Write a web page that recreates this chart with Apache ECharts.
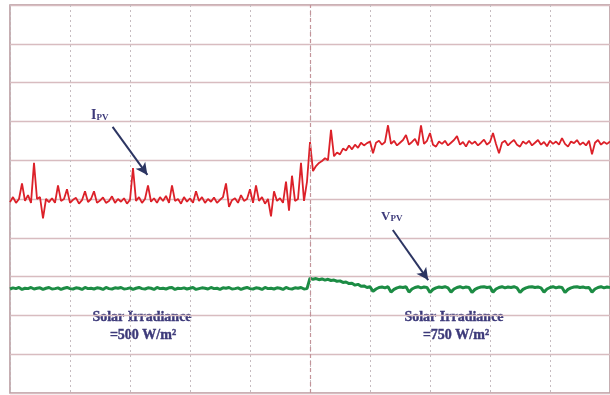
<!DOCTYPE html>
<html>
<head>
<meta charset="utf-8">
<script src="https://cdn.jsdelivr.net/npm/echarts@6/dist/echarts.min.js"></script>
<style>html,body{margin:0;padding:0;background:#fff}#c{width:610px;height:395px}</style>
</head>
<body>
<div id="c"></div>
<script>
// sample spacing in grid divisions (time axis)
const sampleStep = 0.05;
// PV current trace (in screen divisions)
const ipv = [
4.92,5.05,4.9,5.0,5.4,4.95,5.1,4.9,5.93,5.0,
5.05,4.5,5.0,4.92,5.02,4.9,5.35,4.95,5.0,5.25,
4.9,4.98,5.03,4.88,4.97,5.2,4.92,5.0,5.2,4.9,
4.96,5.04,4.9,4.95,5.07,4.9,5.0,4.93,5.02,4.88,
4.98,5.8,4.95,5.05,4.9,5.0,5.35,4.93,5.02,4.9,
5.05,4.95,5.08,4.9,5.35,4.95,5.0,4.88,5.05,4.93,
5.02,4.9,5.2,4.95,5.05,4.9,5.0,4.93,5.04,4.9,
4.98,5.05,5.4,4.8,4.97,5.02,4.9,5.1,4.95,5.0,
5.25,4.9,5.35,4.95,5.05,4.88,5.0,4.55,5.2,4.95,
5.02,4.9,5.45,4.7,5.6,4.95,5.0,5.93,4.95,5.45,
6.47,5.72,5.85,5.93,5.98,6.05,6.0,6.78,6.1,6.2,
6.15,6.3,6.25,6.38,6.28,6.4,6.32,6.45,6.38,6.44,
6.48,6.18,6.45,6.5,6.4,6.47,6.9,6.42,6.5,6.38,
6.45,6.52,6.65,6.4,6.47,6.55,6.38,6.9,6.42,6.5,
6.7,6.4,6.35,6.48,6.42,6.5,6.38,6.45,6.52,6.62,
6.4,6.47,6.35,6.5,6.42,6.48,6.38,6.45,6.53,6.4,
6.47,6.7,6.42,6.18,6.45,6.5,6.38,6.46,6.52,6.4,
6.35,6.48,6.42,6.5,6.38,6.45,6.52,6.4,6.47,6.36,
6.5,6.42,6.48,6.4,6.57,6.42,6.35,6.48,6.44,6.52,
6.4,6.46,6.38,6.5,6.15,6.45,6.52,6.4,6.47,6.42,
6.48
];
// PV voltage trace (in screen divisions)
const vpv = [
2.68,2.71,2.69,2.72,2.67,2.7,2.69,2.72,2.68,2.7,
2.71,2.67,2.7,2.72,2.68,2.69,2.71,2.67,2.7,2.72,
2.69,2.68,2.71,2.7,2.67,2.72,2.69,2.7,2.68,2.71,
2.7,2.67,2.72,2.69,2.68,2.71,2.7,2.72,2.68,2.69,
2.71,2.67,2.7,2.72,2.69,2.68,2.71,2.7,2.67,2.72,
2.69,2.7,2.68,2.71,2.72,2.67,2.7,2.69,2.71,2.68,
2.7,2.72,2.67,2.69,2.71,2.7,2.68,2.72,2.69,2.7,
2.67,2.71,2.7,2.72,2.68,2.69,2.71,2.67,2.7,2.72,
2.69,2.68,2.71,2.7,2.67,2.72,2.69,2.7,2.68,2.71,
2.7,2.67,2.72,2.69,2.68,2.71,2.7,2.72,2.68,2.69,
2.96,2.93,2.95,2.92,2.94,2.91,2.93,2.9,2.91,2.88,
2.89,2.85,2.86,2.82,2.83,2.78,2.8,2.75,2.76,2.72,
2.74,2.62,2.68,2.72,2.73,2.71,2.74,2.6,2.67,2.71,
2.73,2.72,2.74,2.6,2.68,2.72,2.74,2.71,2.73,2.72,
2.59,2.67,2.71,2.73,2.72,2.74,2.71,2.6,2.68,2.72,
2.74,2.71,2.73,2.72,2.59,2.67,2.71,2.73,2.74,2.72,
2.73,2.6,2.68,2.72,2.74,2.71,2.73,2.72,2.74,2.71,
2.59,2.67,2.71,2.73,2.74,2.72,2.73,2.71,2.6,2.68,
2.72,2.74,2.71,2.73,2.72,2.59,2.67,2.71,2.73,2.74,
2.72,2.73,2.71,2.72,2.6,2.68,2.72,2.74,2.71,2.73,
2.72
];
const xDivs = [0, 10];
const yDivs = [0, 10];
const ipvArrow = [[1.71, 6.86], [2.29, 5.62]];
const vpvArrow = [[6.38, 4.2], [6.97, 2.91]];
const stepTime = 5;

const pair = arr => arr.map((v, i) => [+(i * sampleStep).toFixed(3), v]);

const chart = echarts.init(document.getElementById('c'), null, {renderer: 'canvas'});
const txtColor = '#3d3a7a';
const serif = '"Liberation Serif","DejaVu Serif",serif';
const arrowStyle = {color: '#2c3562', width: 2, type: 'solid'};
const label = (x, y, text) => ({type: 'text', x: x, y: y, style: {
  text: text, align: 'center', verticalAlign: 'middle', font: 'bold 14px ' + serif,
  fill: txtColor, stroke: txtColor, lineWidth: 0.4}});
chart.setOption({
  backgroundColor: '#ffffff',
  animation: false,
  grid: {left: 10, top: 5, width: 603, height: 388, show: true, borderColor: '#b49499', borderWidth: 1.5, backgroundColor: 'transparent'},
  xAxis: {
    type: 'value', min: xDivs[0], max: xDivs[1], interval: 1,
    axisLine: {show: false}, axisTick: {show: false}, axisLabel: {show: false},
    splitLine: {show: true, lineStyle: {color: '#c6bcc0', type: [2, 3], width: 1}}
  },
  yAxis: {
    type: 'value', min: yDivs[0], max: yDivs[1], interval: 1,
    axisLine: {show: false}, axisTick: {show: false}, axisLabel: {show: false},
    splitLine: {show: true, lineStyle: {color: '#d8bcc0', width: 1.3}}
  },
  series: [
    {
      type: 'line', data: pair(vpv), showSymbol: false, symbol: 'none',
      lineStyle: {color: '#1c8c44', width: 3},
      z: 3,
      markLine: {
        silent: true, symbol: ['none', 'arrow'], symbolSize: [9, 12],
        label: {show: false}, lineStyle: arrowStyle,
        data: [[{coord: vpvArrow[0]}, {coord: vpvArrow[1]}]]
      }
    },
    {
      type: 'line', data: pair(ipv), showSymbol: false, symbol: 'none',
      lineStyle: {color: '#dc2129', width: 1.8},
      z: 4,
      markLine: {
        silent: true, symbol: ['none', 'none'],
        label: {show: false}, lineStyle: {color: '#c4949a', width: 1.2, type: [4, 3]},
        data: [{xAxis: stepTime}]
      }
    },
    {
      type: 'line', data: [], z: 5,
      markLine: {
        silent: true, symbol: ['none', 'arrow'], symbolSize: [9, 12],
        label: {show: false}, lineStyle: arrowStyle,
        data: [[{coord: ipvArrow[0]}, {coord: ipvArrow[1]}]]
      }
    }
  ],
  graphic: [
    {type: 'text', left: 91, top: 108, style: {
      text: '{a|I}{b|PV}', rich: {
        a: {fontFamily: serif, fontWeight: 'bold', fontSize: 14, fill: txtColor},
        b: {fontFamily: serif, fontWeight: 'bold', fontSize: 9, fill: txtColor, padding: [6, 0, 0, 0]}
      }}},
    {type: 'text', left: 381, top: 210, style: {
      text: '{a|V}{b|PV}', rich: {
        a: {fontFamily: serif, fontWeight: 'bold', fontSize: 13, fill: txtColor},
        b: {fontFamily: serif, fontWeight: 'bold', fontSize: 9, fill: txtColor, padding: [5, 0, 0, 0]}
      }}},
    label(142, 317, 'Solar Irradiance'),
    label(143, 335, '=500 W/m²'),
    label(454, 317, 'Solar Irradiance'),
    label(456, 335, '=750 W/m²')
  ]
});
</script>
</body>
</html>
